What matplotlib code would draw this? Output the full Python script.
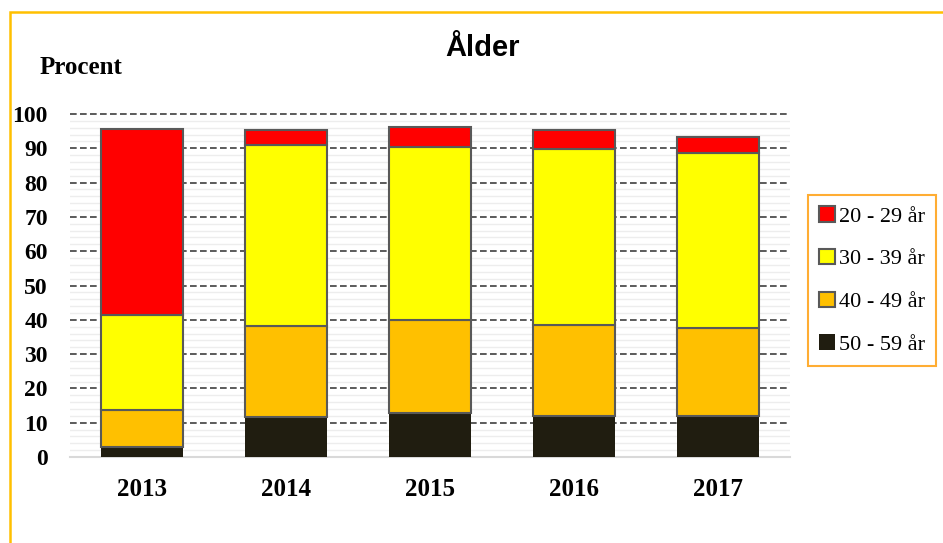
import matplotlib.pyplot as plt
import numpy as np
from matplotlib.patches import Rectangle, Patch

# data
years = ['2013', '2014', '2015', '2016', '2017']
age_50_59 = [3.0, 11.7, 12.8, 12.0, 12.0]
age_40_49 = [10.7, 26.5, 27.2, 26.5, 25.6]
age_30_39 = [27.7, 52.8, 50.4, 51.3, 51.0]
age_20_29 = [54.2, 4.3, 5.8, 5.5, 4.7]

series = [
    ('50 - 59 år', age_50_59, '#201D10'),
    ('40 - 49 år', age_40_49, '#FFC000'),
    ('30 - 39 år', age_30_39, '#FFFF00'),
    ('20 - 29 år', age_20_29, '#FF0000'),
]

serif = 'Liberation Serif'
sans = 'Liberation Sans'

fig = plt.figure(figsize=(9.43, 5.43), dpi=100)
ax = fig.add_axes([70/943, 86/543, 720/943, 343/543])

x = np.arange(len(years))
bottom = np.zeros(len(years))
for name, vals, col in series:
    ec = 'none' if col == '#201D10' else '#595959'
    ax.bar(x, vals, width=0.57, bottom=bottom, color=col, edgecolor=ec,
           linewidth=1.5, zorder=3)
    bottom += np.array(vals)

ax.set_xlim(-0.5, len(years) - 0.5)
ax.set_ylim(0, 100)
ax.set_yticks(np.arange(0, 101, 10))
ax.set_yticks(np.arange(0, 101, 2), minor=True)
ax.set_xticks(x)
ax.set_xticklabels(years)

# grid
ax.grid(axis='y', which='minor', color='#EDEDED', linewidth=1.0, zorder=0)
ax.grid(axis='y', which='major', color='#404040', linewidth=1.2,
        linestyle=(0, (4, 2)), zorder=1)
ax.set_axisbelow(True)
for gl in ax.get_ygridlines():
    gl.set_clip_on(False)

for s in ['top', 'right', 'left']:
    ax.spines[s].set_visible(False)
ax.spines['bottom'].set_color('#D9D9D9')
ax.spines['bottom'].set_linewidth(1.5)
ax.tick_params(axis='both', which='both', length=0)
ax.tick_params(axis='y', pad=16)
ax.tick_params(axis='x', pad=15)

for lab in ax.get_yticklabels():
    lab.set_fontfamily(serif)
    lab.set_fontweight('bold')
    lab.set_fontsize(17)
for lab in ax.get_xticklabels():
    lab.set_fontfamily(serif)
    lab.set_fontweight('bold')
    lab.set_fontsize(18)

fig.text(483/943, 1 - 48/543, 'Ålder', ha='center', va='center',
         fontsize=21, fontweight='bold', family=sans)
fig.text(40/943, 1 - 68/543, 'Procent', ha='left', va='center',
         fontsize=18, fontweight='bold', family=serif)

# legend
handles = []
for name, vals, col in reversed(series):
    ec = 'none' if col == '#201D10' else '#595959'
    handles.append(Patch(facecolor=col, edgecolor=ec, linewidth=1.5, label=name))
leg = fig.legend(handles=handles, loc='center left',
                 bbox_to_anchor=(808/943, 1 - 280.5/543),
                 prop={'family': serif, 'size': 16},
                 frameon=True, fancybox=False, handlelength=0.7,
                 handleheight=0.7, handletextpad=0.2, labelspacing=1.0,
                 borderpad=0.5, borderaxespad=0)
leg.get_frame().set_edgecolor('#FF9900')
leg.get_frame().set_linewidth(1.5)

# outer frame of the chart
fig.patches.append(Rectangle((10/943, -0.1), 1.2, 1 - 12/543 + 0.1,
                             transform=fig.transFigure, fill=False,
                             edgecolor='#FFC000', linewidth=1.8))

fig.savefig('out.png', dpi=100)
